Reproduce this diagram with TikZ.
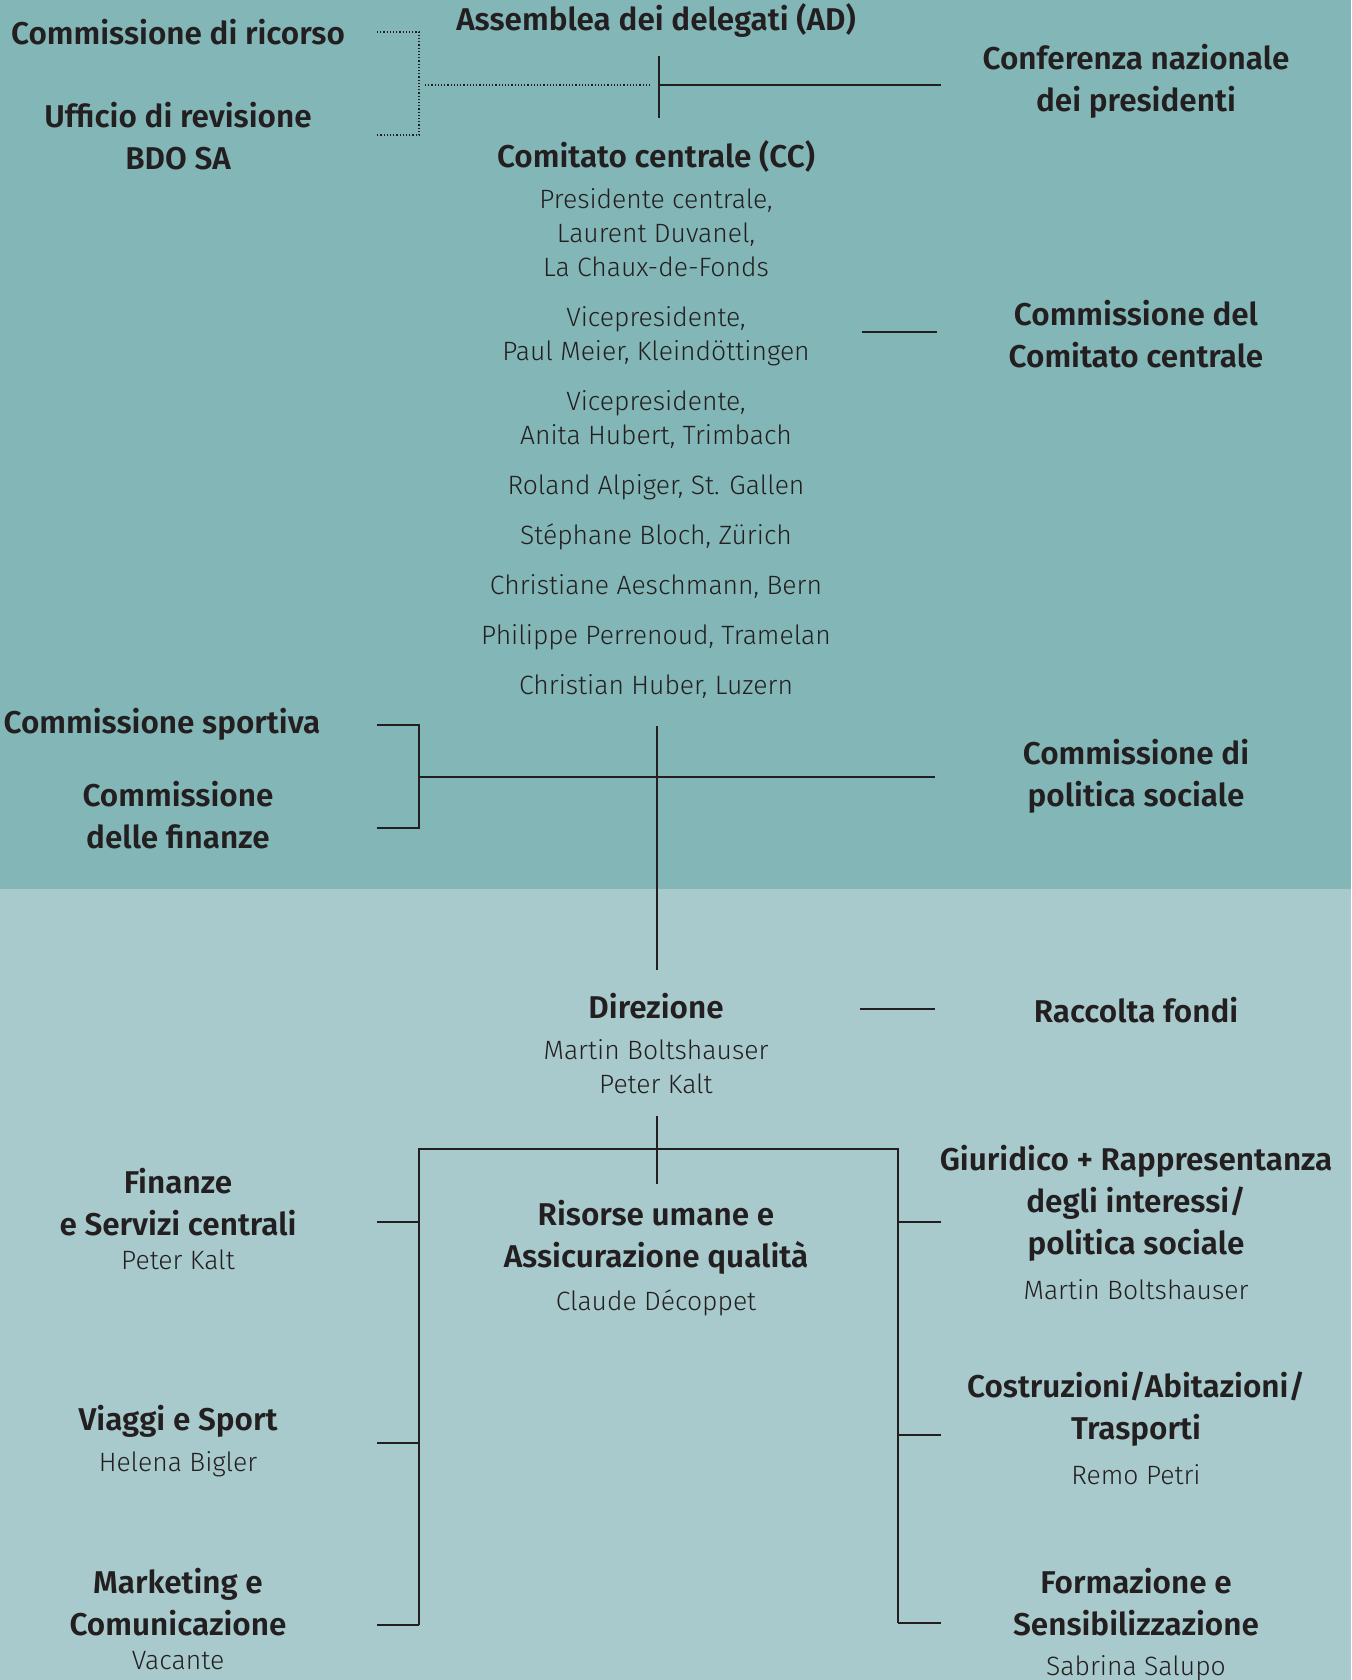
\documentclass[tikz,border=0pt]{standalone}
\usepackage{fontspec}
\setmainfont{Fira Sans Light}[BoldFont={Fira Sans SemiBold}]
\newfontfamily\hdfont{Fira Sans SemiBold}
\newfontfamily\ltfont{Fira Sans Light}
\definecolor{topband}{HTML}{83B6B7}
\definecolor{lowband}{HTML}{A8CACC}
\definecolor{ink}{HTML}{231F20}
\begin{document}
\begin{tikzpicture}[x=1pt,y=-1pt,
  hd/.style={text=ink,align=center,inner sep=0pt,font=\hdfont\fontsize{31.5}{42}\selectfont},
  nm/.style={text=ink,align=center,inner sep=0pt,font=\ltfont\fontsize{26.5}{34}\selectfont},
  ln/.style={draw=ink,line width=1.4pt},
  dl/.style={draw=ink,line width=1.3pt,dash pattern=on 1.2pt off 2pt}]
\fill[topband] (0,0) rectangle (1351,889);
\fill[lowband] (0,889) rectangle (1351,1680);
\useasboundingbox (0,0) rectangle (1351,1680);

% top area
\node[hd] (ricorso) at (178,32) {Commissione di ricorso};
\node[hd] (ad) at (656,21) {Assemblea dei delegati (AD)};
\node[hd] (conf) at (1136,81) {Conferenza nazionale\\dei presidenti};
\node[hd] (revis) at (178,136) {Ufficio di revisione\\BDO SA};
\node[hd] (cc) at (656,156) {Comitato centrale (CC)};
\node[nm] (ccm) at (656,444) {Presidente centrale,\\Laurent Duvanel,\\La Chaux-de-Fonds\\[16pt]
Vicepresidente,\\Paul Meier, Kleindöttingen\\[16pt]
Vicepresidente,\\Anita Hubert, Trimbach\\[16pt]
Roland Alpiger, St. Gallen\\[16pt]
Stéphane Bloch, Zürich\\[16pt]
Christiane Aeschmann, Bern\\[16pt]
Philippe Perrenoud, Tramelan\\[16pt]
Christian Huber, Luzern};
\node[hd] (ccc) at (1136,334) {Commissione del\\Comitato centrale};
\node[hd] (sport) at (162,724) {Commissione sportiva};
\node[hd] (finc) at (178,815) {Commissione\\delle finanze};
\node[hd] (pol) at (1136,776) {Commissione di\\politica sociale};

% lower area
\node[hd] (dir) at (656,1006) {Direzione};
\node[nm] (dirn) at (656,1067) {Martin Boltshauser\\Peter Kalt};
\node[hd] (racc) at (1136,1010) {Raccolta fondi};
\node[hd] (finz) at (178,1202) {Finanze\\e Servizi centrali};
\node[nm] (finzn) at (178,1260) {Peter Kalt};
\node[hd] (hr) at (656,1237) {Risorse umane e\\Assicurazione qualità};
\node[nm] (hrn) at (656,1303) {Claude Décoppet};
\node[hd] (giur) at (1136,1203) {Giuridico + Rappresentanza\\degli interessi/\\politica sociale};
\node[nm] (giurn) at (1136,1290) {Martin Boltshauser};
\node[hd] (viag) at (178,1421) {Viaggi e Sport};
\node[nm] (viagn) at (178,1464) {Helena Bigler};
\node[hd] (costr) at (1136,1409) {Costruzioni/Abitazioni/\\Trasporti};
\node[nm] (costrn) at (1136,1475) {Remo Petri};
\node[hd] (mark) at (178,1602) {Marketing e\\Comunicazione};
\node[nm] (markn) at (178,1661) {Vacante};
\node[hd] (form) at (1136,1602) {Formazione e\\Sensibilizzazione};
\node[nm] (formn) at (1136,1668) {Sabrina Salupo};

% junction coordinates
\coordinate (adtop) at (659,56);
\coordinate (adbot) at (659,118);
\coordinate (adj) at (659,85);
\coordinate (confend) at (941,85);
\coordinate (dtl) at (377,32);
\coordinate (dtr) at (419,32);
\coordinate (dbl) at (377,135);
\coordinate (dbr) at (419,135);
\coordinate (dml) at (425,85);
\coordinate (dmr) at (651,85);
\coordinate (ccl) at (862,332);
\coordinate (ccr) at (937,332);
\coordinate (bt1) at (377,725);
\coordinate (bt2) at (419,725);
\coordinate (bb1) at (377,828);
\coordinate (bb2) at (419,828);
\coordinate (bm) at (419,777);
\coordinate (bmr) at (935,777);
\coordinate (vtop) at (657,726);
\coordinate (vbot) at (657,970);
\coordinate (rl) at (860,1009);
\coordinate (rr) at (935,1009);
\coordinate (dv1) at (657,1116);
\coordinate (dv2) at (657,1184);
\coordinate (rtl) at (419,1149);
\coordinate (rtr) at (898,1149);
\coordinate (lb) at (419,1625);
\coordinate (rb) at (898,1623);
\coordinate (lt1) at (377,1222);
\coordinate (lt2) at (377,1443);
\coordinate (lt3) at (377,1625);
\coordinate (rt1) at (941,1222);
\coordinate (rt2) at (941,1435);
\coordinate (rt3) at (941,1623);

% connectors
\draw[ln] (adtop) -- (adbot);
\draw[ln] (adj) -- (confend);
\draw[dl] (dtl) -- (dtr) -- (dbr) -- (dbl);
\draw[dl] (dml) -- (dmr);
\draw[ln] (ccl) -- (ccr);
\draw[ln] (bt1) -- (bt2) -- (bb2) -- (bb1);
\draw[ln] (bm) -- (bmr);
\draw[ln] (vtop) -- (vbot);
\draw[ln] (rl) -- (rr);
\draw[ln] (dv1) -- (dv2);
\draw[ln] (lb) -- (rtl) -- (rtr) -- (rb);
\draw[ln] (lt1) -- (lt1 -| rtl);
\draw[ln] (lt2) -- (lt2 -| rtl);
\draw[ln] (lt3) -- (lb);
\draw[ln] (rt1) -- (rt1 -| rtr);
\draw[ln] (rt2) -- (rt2 -| rtr);
\draw[ln] (rt3) -- (rb);
\end{tikzpicture}
\end{document}
